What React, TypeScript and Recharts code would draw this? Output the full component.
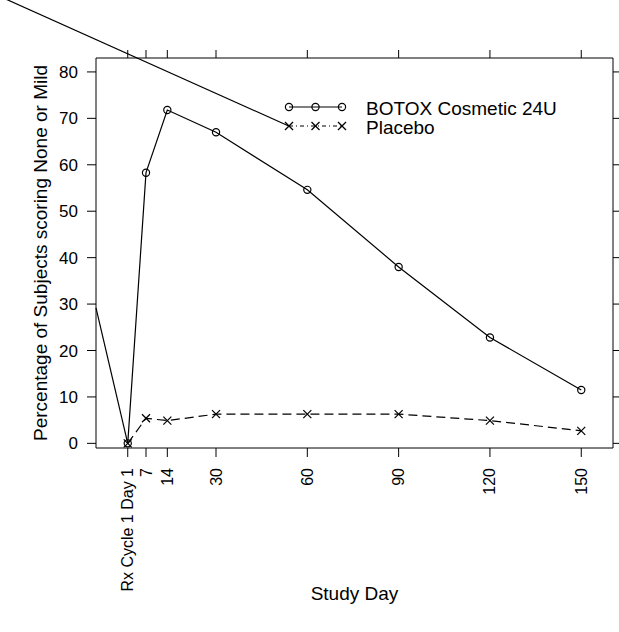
import React from "react";
import { LineChart, Line, XAxis, YAxis, ReferenceLine, Customized, Label } from "recharts";

const FONT = "'Liberation Sans', Arial, Helvetica, sans-serif";

// study days and percentages
const DAYS = [1, 7, 14, 30, 60, 90, 120, 150];
const BOTOX = [0, 58.3, 71.8, 67.0, 54.6, 38.0, 22.8, 11.5];
const PLACEBO = [0, 5.4, 4.9, 6.3, 6.3, 6.3, 4.9, 2.7];
const Y_TICKS = [0, 10, 20, 30, 40, 50, 60, 70, 80];
const X_DOMAIN = [-9.43, 160.43];
const Y_DOMAIN = [-1, 83];
const SERIES_NAMES = ["BOTOX Cosmetic 24U", "Placebo"];

// stray strokes present in the source figure (data coordinates)
const STRAY_LEGEND_LINE = [
  { x: -40.8, y: 96.2 },
  { x: 53.7, y: 68.4 },
];
const STRAY_PANEL_LINE = [
  { x: 1, y: 0 },
  { x: -9.43, y: 29.2 },
];

const data = DAYS.map((day, i) => ({ day, botox: BOTOX[i], placebo: PLACEBO[i] }));

function CrossDot(props: any) {
  const { cx, cy } = props;
  if (cx == null || cy == null) return null;
  const s = 4;
  return (
    <g stroke="#000" strokeWidth={1.2}>
      <line x1={cx - s} y1={cy - s} x2={cx + s} y2={cy + s} />
      <line x1={cx - s} y1={cy + s} x2={cx + s} y2={cy - s} />
    </g>
  );
}

// tick marks only, no label
const NoLabel = () => <g />;

function XTick(props: any) {
  const { x, y, payload } = props;
  const label = payload.value === 1 ? "Rx Cycle 1 Day 1" : String(payload.value);
  return (
    <text
      x={x}
      y={y}
      transform={`rotate(-90 ${x} ${y})`}
      textAnchor="end"
      dominantBaseline="central"
      fontSize={16}
      fontFamily={FONT}
      fill="#000"
    >
      {label}
    </text>
  );
}

function LegendBox() {
  const x0 = 289;
  const xs = [x0, x0 + 26.5, x0 + 53];
  const rows = [107, 126];
  return (
    <g>
      <line x1={xs[0]} y1={rows[0]} x2={xs[2]} y2={rows[0]} stroke="#000" strokeWidth={1.2} />
      {xs.map((x) => (
        <circle key={"c" + x} cx={x} cy={rows[0]} r={3.6} fill="none" stroke="#000" strokeWidth={1.2} />
      ))}
      <line
        x1={xs[0]}
        y1={rows[1]}
        x2={xs[2]}
        y2={rows[1]}
        stroke="#000"
        strokeWidth={1.2}
        strokeDasharray="4 3 1 3"
      />
      {xs.map((x) => (
        <CrossDot key={"x" + x} cx={x} cy={rows[1]} />
      ))}
      {SERIES_NAMES.map((name, i) => (
        <text
          key={name}
          x={366}
          y={rows[i] + 1}
          dominantBaseline="central"
          fontSize={19}
          fontFamily={FONT}
          fill="#000"
        >
          {name}
        </text>
      ))}
    </g>
  );
}

export default function App() {
  return (
    <div style={{ position: "absolute", left: 0, top: 0, background: "#fff" }}>
      <LineChart width={619} height={632} data={data} margin={{ top: 48, right: 0, bottom: 34, left: 36 }}>
        <XAxis
          dataKey="day"
          type="number"
          domain={X_DOMAIN}
          ticks={DAYS}
          allowDataOverflow
          height={150}
          stroke="#000"
          tickSize={9}
          tickMargin={11}
          tick={<XTick />}
          interval={0}
        >
          <Label
            content={(p: any) => {
              const vb = p.viewBox;
              return (
                <text
                  x={vb.x + vb.width / 2}
                  y={vb.y + vb.height - 5}
                  textAnchor="middle"
                  dominantBaseline="central"
                  fontSize={19}
                  fontFamily={FONT}
                  fill="#000"
                >
                  Study Day
                </text>
              );
            }}
          />
        </XAxis>
        <XAxis
          xAxisId="top"
          orientation="top"
          dataKey="day"
          type="number"
          domain={X_DOMAIN}
          ticks={DAYS}
          allowDataOverflow
          height={10}
          stroke="#000"
          tickSize={8}
          tick={<NoLabel />}
          interval={0}
        />
        <YAxis
          type="number"
          domain={Y_DOMAIN}
          ticks={Y_TICKS}
          allowDataOverflow
          width={60}
          stroke="#000"
          tickSize={9}
          tickMargin={9}
          tick={{ fontSize: 17, fontFamily: FONT, fill: "#000" }}
          interval={0}
        >
          <Label
            content={(p: any) => {
              const vb = p.viewBox;
              const cx = vb.x + 4;
              const cy = vb.y + vb.height / 2;
              return (
                <text
                  x={cx}
                  y={cy}
                  transform={`rotate(-90 ${cx} ${cy})`}
                  textAnchor="middle"
                  dominantBaseline="central"
                  fontSize={19}
                  fontFamily={FONT}
                  fill="#000"
                >
                  Percentage of Subjects scoring None or Mild
                </text>
              );
            }}
          />
        </YAxis>
        <YAxis
          yAxisId="right"
          orientation="right"
          type="number"
          domain={Y_DOMAIN}
          ticks={Y_TICKS}
          allowDataOverflow
          width={6}
          stroke="#000"
          tickSize={7}
          tick={<NoLabel />}
          interval={0}
        />
        <ReferenceLine segment={STRAY_PANEL_LINE} stroke="#000" strokeWidth={1.2} ifOverflow="visible" />
        <Line
          dataKey="botox"
          stroke="#000"
          strokeWidth={1.2}
          dot={{ r: 3.6, fill: "none", stroke: "#000", strokeWidth: 1.2 }}
          activeDot={false}
          isAnimationActive={false}
        />
        <Line
          dataKey="placebo"
          stroke="#000"
          strokeWidth={1.2}
          strokeDasharray="9 5"
          dot={<CrossDot />}
          activeDot={false}
          isAnimationActive={false}
        />
        <ReferenceLine segment={STRAY_LEGEND_LINE} stroke="#000" strokeWidth={1.2} ifOverflow="visible" />
        <Customized component={<LegendBox />} />
      </LineChart>
    </div>
  );
}
